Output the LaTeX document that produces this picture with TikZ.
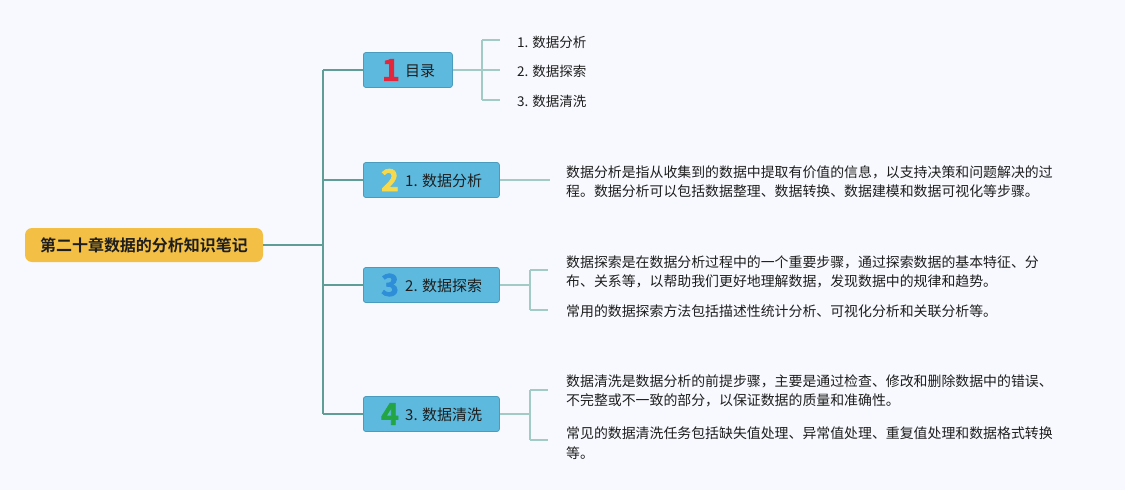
\documentclass[tikz,border=0pt]{standalone}
\usepackage{fontspec}
\newfontfamily\cjk{Noto Sans CJK SC}
\newfontfamily\cjkb{Noto Sans CJK SC Bold}
\newfontfamily\numfont[FakeBold=2.5]{Noto Sans CJK SC Bold}
\definecolor{bg}{HTML}{F8F9FE}
\definecolor{rootfill}{HTML}{F3C045}
\definecolor{boxfill}{HTML}{5DB9DD}
\definecolor{boxline}{HTML}{4A9CBE}
\definecolor{trunk}{HTML}{5F9E97}
\definecolor{leafline}{HTML}{A3CBC5}
\definecolor{txt}{HTML}{1E1E1E}
\definecolor{nred}{HTML}{E3263C}
\definecolor{nyel}{HTML}{F6D94C}
\definecolor{nblu}{HTML}{2E8ED8}
\definecolor{ngrn}{HTML}{23A545}
\begin{document}
\begin{tikzpicture}[x=1pt,y=-1pt,
  rootbox/.style={rounded corners=7pt,fill=rootfill,minimum width=238pt,minimum height=34pt,inner sep=0pt,font=\cjkb\fontsize{16}{18}\selectfont,text=txt},
  topic/.style={rounded corners=2.5pt,fill=boxfill,draw=boxline,line width=0.8pt,minimum height=35pt,inner sep=0pt,anchor=west},
  num/.style={font=\numfont\fontsize{30}{32}\selectfont,inner sep=0pt},
  tlabel/.style={font=\cjk\fontsize{15}{18}\selectfont,text=txt,inner sep=0pt,anchor=west},
  leaf/.style={font=\cjk\fontsize{13.5}{16}\selectfont,text=txt,inner sep=0pt,anchor=west},
  para/.style={font=\cjk\fontsize{13.9}{19.5}\selectfont,text=txt,inner sep=0pt,anchor=west,align=left},
  tline/.style={trunk,line width=1.2pt},
  lline/.style={leafline,line width=1.2pt}]
\fill[bg] (0,0) rectangle (1125,490);
\useasboundingbox (0,0) rectangle (1125,490);

% root
\node[rootbox] (root) at (144,245) {第二十章数据的分析知识笔记};

% topic boxes
\node[topic,minimum width=89pt] (b1) at (363,70) {};
\node[topic,minimum width=136pt] (b2) at (363,180) {};
\node[topic,minimum width=136pt] (b3) at (363,285) {};
\node[topic,minimum width=136pt] (b4) at (363,414) {};

\node[num,text=nred] (n1) at (391,70) {1};
\node[tlabel] (l1) at (405,71) {目录};
\node[num,text=nyel] (n2) at (390,180) {2};
\node[tlabel] (l2) at (405,181) {1. 数据分析};
\node[num,text=nblu] (n3) at (390,285) {3};
\node[tlabel] (l3) at (405,286) {2. 数据探索};
\node[num,text=ngrn] (n4) at (390,414) {4};
\node[tlabel] (l4) at (405,415) {3. 数据清洗};

% trunk
\coordinate (t0) at (323,245);
\coordinate (t1) at (323,70);
\coordinate (t2) at (323,180);
\coordinate (t3) at (323,285);
\coordinate (t4) at (323,414);
\draw[tline] (root.east) -- (t0);
\draw[tline] (t1) -- (t4);
\draw[tline] (t1) -- (b1.west);
\draw[tline] (t2) -- (b2.west);
\draw[tline] (t3) -- (b3.west);
\draw[tline] (t4) -- (b4.west);

% branch 1 leaves
\node[leaf] (s1) at (517,42) {1. 数据分析};
\node[leaf] (s2) at (517,71) {2. 数据探索};
\node[leaf] (s3) at (517,101) {3. 数据清洗};
\coordinate (k1) at (482,70);
\coordinate (k1a) at (482,40);
\coordinate (k1b) at (482,100);
\draw[lline] (b1.east) -- (k1);
\draw[lline] (k1a) -- (k1b);
\draw[lline] (k1a) -- (500,40);
\draw[lline] (k1) -- (500,70);
\draw[lline] (k1b) -- (500,100);

% branch 2
\node[para] (p2) at (566,181.5) {数据分析是指从收集到的数据中提取有价值的信息，以支持决策和问题解决的过\\程。数据分析可以包括数据整理、数据转换、数据建模和数据可视化等步骤。};
\coordinate (e2) at (550,180);
\draw[lline] (b2.east) -- (e2);

% branch 3
\node[para] (p3a) at (566,272) {数据探索是在数据分析过程中的一个重要步骤，通过探索数据的基本特征、分\\布、关系等，以帮助我们更好地理解数据，发现数据中的规律和趋势。};
\node[para] (p3b) at (566,311) {常用的数据探索方法包括描述性统计分析、可视化分析和关联分析等。};
\coordinate (k3) at (530,285);
\coordinate (k3a) at (530,270);
\coordinate (k3b) at (530,310);
\draw[lline] (b3.east) -- (k3);
\draw[lline] (k3a) -- (k3b);
\draw[lline] (k3a) -- (548,270);
\draw[lline] (k3b) -- (548,310);

% branch 4
\node[para] (p4a) at (566,391) {数据清洗是数据分析的前提步骤，主要是通过检查、修改和删除数据中的错误、\\不完整或不一致的部分，以保证数据的质量和准确性。};
\node[para] (p4b) at (566,443) {常见的数据清洗任务包括缺失值处理、异常值处理、重复值处理和数据格式转换\\等。};
\coordinate (k4) at (530,414);
\coordinate (k4a) at (530,390);
\coordinate (k4b) at (530,440);
\draw[lline] (b4.east) -- (k4);
\draw[lline] (k4a) -- (k4b);
\draw[lline] (k4a) -- (548,390);
\draw[lline] (k4b) -- (548,440);
\end{tikzpicture}
\end{document}
